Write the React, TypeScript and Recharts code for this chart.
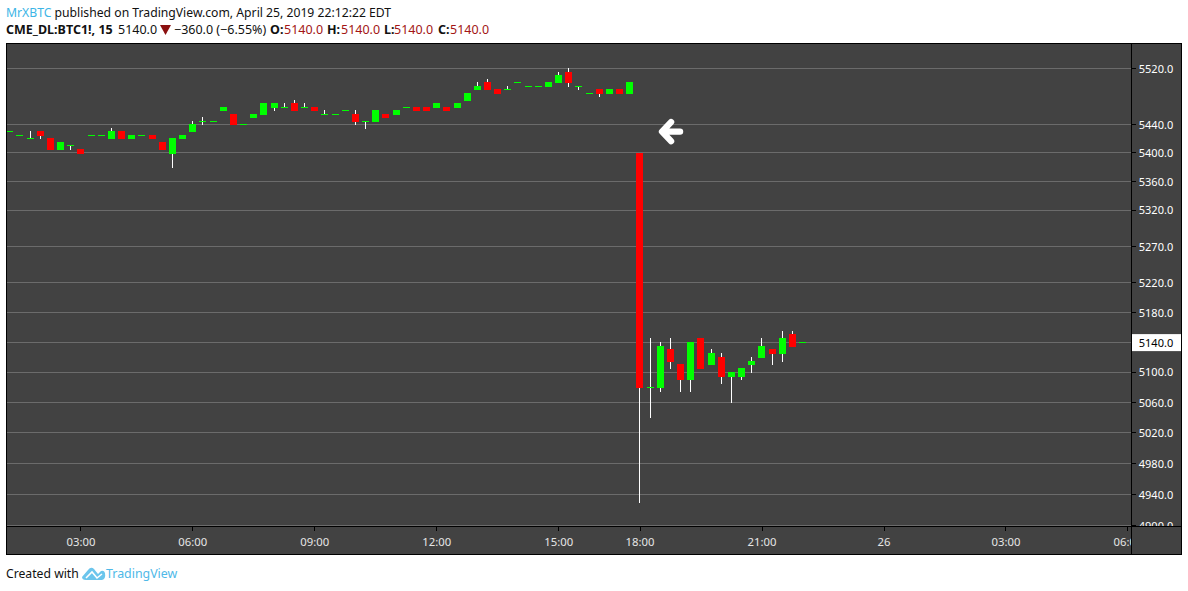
import { Bar, CartesianGrid, ComposedChart, ReferenceDot, XAxis, YAxis } from 'recharts';

const opens = [
    5430, 5425, 5420, 5430, 5420, 5405, 5410, 5405, 5425, 5425,
    5420, 5430, 5420, 5425, 5425, 5415, 5400, 5420, 5430, 5445,
    5445, 5460, 5455, 5440, 5450, 5455, 5465, 5465, 5470, 5465,
    5465, 5455, 5455, 5460, 5455, 5445, 5445, 5455, 5455, 5465,
    5465, 5465, 5465, 5465, 5465, 5475, 5490, 5500, 5490, 5490,
    5500, 5495, 5495, 5495, 5500, 5515, 5495, 5485, 5490, 5485,
    5490, 5485, 5400, 5080, 5080, 5130, 5110, 5090, 5145, 5110,
    5120, 5095, 5095, 5110, 5120, 5130, 5125, 5150, 5140,
];
const highs = [
    5430, 5425, 5430, 5430, 5420, 5415, 5410, 5405, 5425, 5425,
    5435, 5430, 5425, 5425, 5425, 5415, 5420, 5425, 5445, 5450,
    5445, 5465, 5455, 5440, 5455, 5470, 5470, 5470, 5475, 5470,
    5465, 5460, 5455, 5460, 5460, 5445, 5460, 5455, 5460, 5465,
    5465, 5465, 5470, 5465, 5470, 5485, 5500, 5505, 5490, 5495,
    5500, 5495, 5495, 5500, 5515, 5520, 5495, 5485, 5490, 5490,
    5490, 5500, 5400, 5145, 5140, 5145, 5110, 5140, 5145, 5130,
    5125, 5100, 5105, 5120, 5145, 5130, 5155, 5155, 5140,
];
const lows = [
    5430, 5425, 5420, 5420, 5405, 5405, 5405, 5400, 5425, 5425,
    5420, 5420, 5420, 5425, 5420, 5405, 5380, 5420, 5430, 5440,
    5445, 5460, 5440, 5440, 5450, 5455, 5460, 5465, 5460, 5465,
    5460, 5455, 5455, 5460, 5440, 5435, 5445, 5450, 5455, 5465,
    5460, 5460, 5465, 5460, 5465, 5475, 5490, 5490, 5485, 5490,
    5500, 5495, 5495, 5495, 5500, 5495, 5490, 5485, 5480, 5485,
    5485, 5485, 4930, 5040, 5075, 5105, 5075, 5075, 5105, 5110,
    5085, 5060, 5090, 5100, 5120, 5110, 5115, 5135, 5140,
];
const closes = [
    5430, 5425, 5420, 5425, 5405, 5415, 5410, 5400, 5425, 5425,
    5430, 5420, 5425, 5425, 5420, 5405, 5420, 5425, 5440, 5445,
    5445, 5465, 5440, 5440, 5455, 5470, 5470, 5465, 5460, 5465,
    5460, 5455, 5455, 5460, 5445, 5445, 5460, 5450, 5460, 5465,
    5460, 5460, 5470, 5460, 5470, 5485, 5495, 5490, 5485, 5490,
    5500, 5495, 5495, 5500, 5510, 5500, 5495, 5485, 5485, 5490,
    5485, 5500, 5080, 5080, 5135, 5115, 5090, 5140, 5105, 5125,
    5095, 5100, 5105, 5115, 5135, 5125, 5145, 5135, 5140,
];

const priceTicks = [5520, 5440, 5400, 5360, 5320, 5270, 5220, 5180, 5140, 5100, 5060, 5020, 4980, 4940, 4900];
const timeTicks = [7, 18, 30, 42, 54, 62, 74, 86, 98, 110];
const timeLabels = ['03:00', '06:00', '09:00', '12:00', '15:00', '18:00', '21:00', '26', '03:00', '06:00'];
const lastPrice = 5140;

const candles = opens.map((open, i) => ({
    index: i,
    up: closes[i] >= open,
    wick: [lows[i], highs[i]],
    body: [Math.min(open, closes[i]), Math.max(open, closes[i])],
}));

const BG = '#424242';
const GRID = '#6b6b6b';
const GREEN = '#00ff00';
const RED = '#ff0000';
const LABEL_FONT = '"Noto Sans", sans-serif';

// snap to whole pixels, the original candles are crisp
function snapEdges(y: number, height: number) {
    const top = Math.floor(y + 0.25);
    const bottom = Math.floor(y + height + 0.25) + 1;
    return { top, size: Math.max(1, bottom - top) };
}

function WickShape({ x, y, height }: any) {
    const { top, size } = snapEdges(y, height);
    return <rect x={Math.floor(x)} y={top} width={1} height={size} fill="#ffffff" />;
}

function BodyShape({ x, y, width, height, payload }: any) {
    const { top, size } = snapEdges(y, height);
    return <rect x={Math.floor(x)} y={top} width={width} height={size} fill={payload.up ? GREEN : RED} />;
}

function PriceTick({ y, payload }: any) {
    const isLast = payload.value === lastPrice;
    return (
        <g clipPath={payload.value === 4900 ? 'url(#priceClip)' : undefined}>
            {payload.value === 4900 && (
                <clipPath id="priceClip">
                    <rect x={1131} y={500} width={50} height={27} />
                </clipPath>
            )}
            <line x1={1132} x2={1136} y1={Math.floor(y) + 0.5} y2={Math.floor(y) + 0.5} stroke="#000000" />
            {isLast && <rect x={1132} y={y - 8} width={49} height={17} fill="#ffffff" />}
            <text x={1156} y={y + 4.4} textAnchor="middle" fontFamily={LABEL_FONT} fontSize={11} fill={isLast ? '#000000' : '#ffffff'}>
                {payload.value.toFixed(1)}
            </text>
        </g>
    );
}

function TimeTick({ x, payload }: any) {
    const label = timeLabels[timeTicks.indexOf(payload.value)];
    const clipped = payload.value === 110;
    return (
        <g clipPath={clipped ? 'url(#timeClip)' : undefined}>
            {clipped && (
                <clipPath id="timeClip">
                    <rect x={1000} y={527} width={131} height={28} />
                </clipPath>
            )}
            <line x1={Math.floor(x) + 0.5} x2={Math.floor(x) + 0.5} y1={527} y2={531} stroke="#000000" />
            <text x={x} y={546} textAnchor="middle" fontFamily={LABEL_FONT} fontSize={11.3} fill="#e6e6e6">
                {label}
            </text>
        </g>
    );
}

function GridLine({ x1, x2, y1 }: any) {
    const y = Math.floor(y1) + 0.5;
    return <line x1={x1} x2={x2} y1={y} y2={y} stroke={GRID} strokeWidth={1} />;
}

function ArrowMark({ cx, cy }: any) {
    return (
        <path
            d={`M ${cx + 9.5} ${cy} H ${cx - 8} M ${cx + 0.5} ${cy - 9.5} L ${cx - 8.5} ${cy} L ${cx + 0.5} ${cy + 9.5}`}
            fill="none"
            stroke="#ffffff"
            strokeWidth={6.4}
            strokeLinecap="round"
            strokeLinejoin="round"
        />
    );
}

function Header() {
    const base = { position: 'absolute', whiteSpace: 'nowrap', fontFamily: LABEL_FONT, fontSize: 12.5, lineHeight: '16px' } as const;
    const value = { ...base, color: '#a31515', top: 22 };
    const key = { ...base, fontWeight: 700, color: '#111', top: 22 };
    return (
        <>
            <div style={{ ...base, left: 6, top: 5, fontSize: 12.2, color: '#111' }}>
                <span style={{ color: '#3db5e6' }}>MrXBTC</span> published on TradingView.com, April 25, 2019 22:12:22 EDT
            </div>
            <div style={{ ...key, left: 6 }}>CME_DL:BTC1!, 15</div>
            <div style={{ ...base, left: 118, top: 22, color: '#111' }}>5140.0</div>
            <svg style={{ position: 'absolute', left: 160, top: 25 }} width={11} height={10}>
                <path d="M0 0H11L5.5 10Z" fill="#8b1010" />
            </svg>
            <div style={{ ...base, left: 174, top: 22, color: '#111' }}>−360.0 (−6.55%)</div>
            <div style={{ ...key, left: 270 }}>O:</div>
            <div style={{ ...value, left: 284 }}>5140.0</div>
            <div style={{ ...key, left: 327 }}>H:</div>
            <div style={{ ...value, left: 341 }}>5140.0</div>
            <div style={{ ...key, left: 384 }}>L:</div>
            <div style={{ ...value, left: 394 }}>5140.0</div>
            <div style={{ ...key, left: 438 }}>C:</div>
            <div style={{ ...value, left: 450 }}>5140.0</div>
        </>
    );
}

function Footer() {
    const base = { position: 'absolute', top: 565, whiteSpace: 'nowrap', fontFamily: LABEL_FONT, lineHeight: '18px' } as const;
    return (
        <>
            <div style={{ ...base, left: 6, fontSize: 12.2, color: '#111' }}>Created with</div>
            <svg style={{ position: 'absolute', left: 82, top: 565 }} width={24} height={17}>
                <path d="M0 12 L6 5 Q9 1 12 4 L16 9 L19 6 Q22 5 23 8 Q24 14 20 15 H4 Q0 15 0 12 Z" fill="#6cc5ec" />
                <path d="M4 13 L10 7 L15 13 L20 9" fill="none" stroke="#ffffff" strokeWidth={1.6} />
            </svg>
            <div style={{ ...base, left: 106, fontSize: 12.4, color: '#4fb9e8' }}>TradingView</div>
        </>
    );
}

export default function App() {
    return (
        <div style={{ position: 'absolute', left: 0, top: 0, width: 1188, height: 591, background: '#ffffff' }}>
            <Header />
            <div style={{ position: 'absolute', left: 6, top: 43, width: 1176, height: 512, background: BG }} />
            <div style={{ position: 'absolute', left: 0, top: 0 }}>
                <ComposedChart
                    width={1188}
                    height={591}
                    data={candles}
                    margin={{ top: 44, right: 7, bottom: 37, left: 7 }}
                >
                    <CartesianGrid vertical={false} horizontal={GridLine as any} horizontalValues={priceTicks} syncWithTicks={false} />
                    <XAxis
                        xAxisId="time"
                        dataKey="index"
                        type="number"
                        domain={[-0.28, 110.3]}
                        ticks={timeTicks}
                        interval={0}
                        allowDataOverflow
                        height={28}
                        axisLine={false}
                        tickLine={false}
                        tick={TimeTick as any}
                    />
                    <XAxis
                        xAxisId="wicks"
                        dataKey="index"
                        type="number"
                        domain={[-0.28, 110.3]}
                        allowDataOverflow
                        hide
                    />
                    <YAxis
                        orientation="right"
                        scale="log"
                        domain={[4899.4, 5555.4]}
                        ticks={priceTicks}
                        interval={0}
                        allowDataOverflow
                        width={50}
                        axisLine={false}
                        tickLine={false}
                        tick={PriceTick as any}
                    />
                    <Bar xAxisId="wicks" dataKey="wick" barSize={1} shape={WickShape as any} isAnimationActive={false} />
                    <Bar xAxisId="time" dataKey="body" barSize={7} shape={BodyShape as any} isAnimationActive={false} />
                    <ReferenceDot xAxisId="time" x={65} y={5430} shape={ArrowMark as any} ifOverflow="visible" />
                </ComposedChart>
            </div>
            <div
                style={{
                    position: 'absolute',
                    left: 6,
                    top: 43,
                    width: 1174,
                    height: 510,
                    border: '1px solid #000000',
                    pointerEvents: 'none',
                }}
            />
            <div style={{ position: 'absolute', left: 7, top: 526, width: 1174, height: 1, background: '#000000' }} />
            <div style={{ position: 'absolute', left: 1131, top: 44, width: 1, height: 510, background: '#000000' }} />
            <Footer />
        </div>
    );
}
